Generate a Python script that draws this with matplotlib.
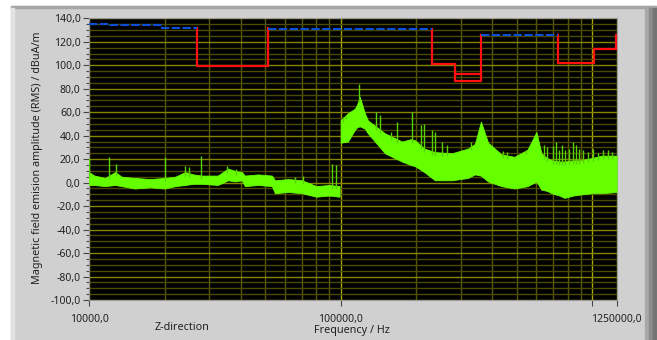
import numpy as np
import matplotlib
matplotlib.use('Agg')
import matplotlib.pyplot as plt
from matplotlib.patches import Rectangle
from matplotlib.ticker import MultipleLocator, LogLocator, NullFormatter

plt.rcParams['font.family'] = ['Noto Sans', 'DejaVu Sans']

# measured spectrum, lower band (10 kHz .. 100 kHz): envelope of the noise
freq_lo = [10000, 10500, 11600, 12700, 13500, 15200, 17500, 20000, 22000, 24100, 26000,
           28100, 32500, 35700, 38000, 40500, 41600, 47000, 53300, 54800, 62000,
           70200, 80000, 90000, 99000]
upper_lo = [9, 6, 4, 9, 5, 4, 3, 4, 5, 9, 7, 6, 6, 12, 10, 9, 6, 7, 6, 2, 3,
            2, -3, -2, -3]
lower_lo = [-2, -2, -3, -2, -3, -5, -4, -5, -3, -2, -1, -1, -2, 2, 1, 2, -3, -2, -3, -9,
            -8, -9, -12, -11, -12]

# measured spectrum, upper band (100 kHz .. 1.25 MHz)
freq_hi = [100000, 106800, 113900, 116000, 119100, 122000, 124800, 128300, 150000,
           175100, 190000, 197600, 215000, 236900, 277000, 320500, 341600, 360900,
           385300, 435700, 490500, 552400, 599400, 628000, 660000, 689000, 740000,
           776000, 840000, 906000, 1000000, 1091000, 1250000]
upper_hi = [53, 59, 63, 66, 73, 66, 59, 53, 42, 35, 37, 36, 29, 26, 25, 29, 33, 52,
            34, 24, 22, 28, 43, 25, 21, 19, 18, 18, 19, 19, 21, 23, 23]
lower_hi = [34, 35, 45, 47, 48, 47, 46, 42, 25, 18, 15, 14, 9, 2, 2, 4, 7, 6,
            1, -3, -5, -3, 1, -6, -7, -9, -11, -13, -11, -10, -9, -9, -8]

# narrow spurs sticking out of the noise
spike_f = [10000, 12000, 12800, 20000, 24100, 25000, 27800, 35400, 38500, 66000, 71000,
           92200, 95700, 102000, 105000, 118500, 138000, 143000, 159000, 167000, 192000,
           208000, 214000, 230000, 237000, 252000, 265000, 330000, 440000, 457000,
           547000, 640000, 660000, 695000, 717000, 737000, 755000, 778000, 810000,
           840000, 861000, 888000, 920000, 964000, 1009000, 1055000, 1105000, 1157000,
           1193000]
spike_v = [21, 22, 16, 22, 14, 13, 23, 14, 12, 5, 6, 16, 15, 56, 58, 84, 60, 58, 43,
           52, 60, 49, 50, 45, 43, 35, 32, 35, 27, 26, 28, 32, 30, 31, 35, 28, 32, 28,
           29, 35, 32, 29, 28, 26, 29, 25, 28, 28, 26]

# limit lines
blue_segs = [
    ([10000, 12100, 12100, 19500, 19500, 26900], [135, 135, 134.3, 134.3, 132, 132]),
    ([51600, 230000], [131.2, 131.2]),
    ([360000, 731000], [126, 126]),
]
red_segs = [
    ([26900, 26900, 51600, 51600], [131.5, 99.5, 99.5, 131.5]),
    ([230000, 230000, 284000, 284000, 360000, 360000], [131, 101, 101, 87, 87, 126]),
    ([284000, 360000], [92.5, 92.5]),
    ([731000, 731000, 1017000, 1017000, 1240000, 1240000], [126, 101.5, 101.5, 114, 114, 126]),
]

green = '#66ff00'
W, H = 657, 340
fig = plt.figure(figsize=(W / 100, H / 100), dpi=100, facecolor='white')


def box(x0, y0, x1, y1, color):
    fig.patches.append(Rectangle((x0 / W, 1 - y1 / H), (x1 - x0) / W, (y1 - y0) / H,
                                 transform=fig.transFigure, color=color, zorder=-10))


box(11, 6, 657, 340, '#d0d0d0')
box(11, 6, 657, 8, '#a6a6a6')
box(11, 8, 14, 340, '#e2e2e2')
box(645, 8, 649, 340, '#a8a8a8')
box(649, 8, 653, 340, '#8c8c8c')
box(653, 8, 657, 340, '#747474')

ax = fig.add_axes([89 / W, 40 / H, (616.7 - 89) / W, (300 - 18.3) / H])
ax.set_zorder(5)
ax.set_facecolor('black')
ax.set_xscale('log')
ax.set_xlim(10000, 1250000)
ax.set_ylim(-100, 140)
ax.set_axisbelow(True)

ax.xaxis.set_minor_locator(LogLocator(base=10, subs=np.arange(2, 10)))
ax.xaxis.set_minor_formatter(NullFormatter())
ax.set_xticks([10000, 100000, 1000000, 1250000],
              labels=['10000,0', '100000,0', '', '1250000,0'])
ax.yaxis.set_minor_locator(MultipleLocator(5))
ax.set_yticks(np.arange(-100, 141, 20),
              labels=[f'{v:.1f}'.replace('.', ',') for v in np.arange(-100, 141, 20)])

ax.grid(which='major', axis='y', color='#858500', lw=1)
ax.grid(which='minor', axis='y', color='#4a4a00', lw=1)
ax.grid(which='major', axis='x', color='#a8a800', lw=1)
ax.grid(which='minor', axis='x', color='#585800', lw=1)

ax.tick_params(which='major', direction='out', length=4, width=0.8, color='#444444',
               labelsize=7.5, labelcolor='#222222', pad=2)
ax.tick_params(which='minor', direction='out', length=2.5, width=0.8, color='#444444')
ax.tick_params(axis='x', which='minor', length=0)
ax.tick_params(axis='x', which='major', pad=6)
for s in ax.spines.values():
    s.set_color('#9a9a9a')
    s.set_linewidth(0.8)

ax.fill_between(freq_lo, lower_lo, upper_lo, color=green, lw=0.6, edgecolor=green, zorder=3)
ax.fill_between(freq_hi, lower_hi, upper_hi, color=green, lw=0.6, edgecolor=green, zorder=3)

f_all = np.log10(freq_lo + freq_hi)
u_all = np.array(upper_lo + upper_hi)
base = np.interp(np.log10(spike_f), f_all, u_all)
ax.vlines(spike_f, base - 3, spike_v, color='#5ad400', lw=1, zorder=3)

for xs, ys in red_segs:
    ax.plot(xs, ys, color='#ff1010', lw=1.6, zorder=4, solid_joinstyle='miter')
for xs, ys in blue_segs:
    ax.plot(xs, ys, color='#0a4fd6', lw=1.5, dashes=(4, 1.2), zorder=5)

fig.text(38 / W, 1 - 158 / H, 'Magnetic field emision amplitude (RMS) / dBuA/m',
         rotation=90, ha='center', va='center', fontsize=7.8, color='#222222')
fig.text(182 / W, 1 - 327 / H, 'Z-direction', ha='center', va='center',
         fontsize=7.8, color='#222222')
fig.text(352 / W, 1 - 330 / H, 'Frequency / Hz', ha='center', va='center',
         fontsize=7.8, color='#222222')

fig.savefig('out.png', dpi=100, facecolor=fig.get_facecolor())
